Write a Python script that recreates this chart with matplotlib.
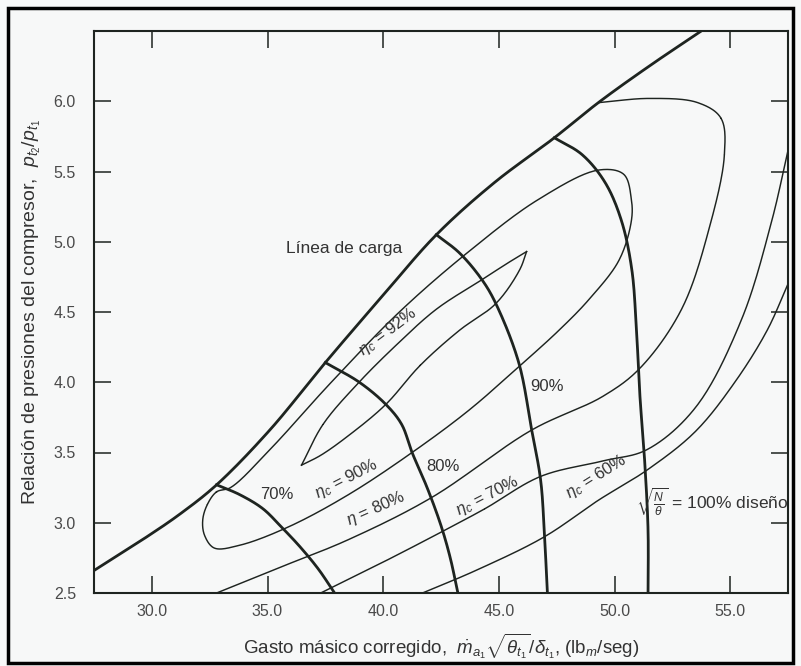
import numpy as np
import matplotlib
matplotlib.use("Agg")
import matplotlib.pyplot as plt
from matplotlib.patches import Rectangle

plt.rcParams["font.family"] = ["Liberation Sans", "DejaVu Sans"]
plt.rcParams["mathtext.fontset"] = "custom"
plt.rcParams["mathtext.rm"] = "Liberation Sans"
plt.rcParams["mathtext.it"] = "Liberation Sans:italic"
plt.rcParams["mathtext.bf"] = "Liberation Sans:bold"

# ---------------- data ----------------
xticks = [30.0, 35.0, 40.0, 45.0, 50.0, 55.0]
yticks = [2.5, 3.0, 3.5, 4.0, 4.5, 5.0, 5.5, 6.0]

surge_x = [27.5, 29.6, 31.2, 32.8, 35.1, 37.5, 40.0, 42.3, 44.8, 47.4, 49.3, 51.5, 53.75]
surge_y = [2.66, 2.88, 3.06, 3.27, 3.66, 4.14, 4.62, 5.05, 5.42, 5.74, 5.99, 6.25, 6.50]

speed70_x = [32.8, 33.8, 34.8, 35.6, 36.4, 37.2, 37.9]
speed70_y = [3.27, 3.20, 3.10, 2.97, 2.83, 2.67, 2.50]
speed80_x = [37.5, 38.97, 40.13, 40.8, 41.25, 41.9, 42.5, 42.9, 43.23]
speed80_y = [4.14, 4.00, 3.84, 3.70, 3.50, 3.25, 2.98, 2.75, 2.50]
speed90_x = [42.3, 43.3, 44.27, 44.87, 45.86, 46.42, 46.81, 46.97, 47.1]
speed90_y = [5.05, 4.92, 4.73, 4.56, 4.14, 3.66, 3.30, 2.92, 2.50]
speed100_x = [47.4, 48.6, 49.6, 50.3, 50.75, 50.95, 51.1, 51.3, 51.45, 51.45]
speed100_y = [5.74, 5.62, 5.42, 5.15, 4.80, 4.37, 3.90, 3.45, 2.95, 2.50]

# 92 % island: upper and lower branch from left tip to right tip
eta92_up_x = [36.47, 37.4, 38.9, 40.6, 42.3, 44.27, 45.4, 46.2]
eta92_up_y = [3.41, 3.70, 3.99, 4.27, 4.52, 4.73, 4.85, 4.93]
eta92_lo_x = [36.47, 37.3, 38.5, 40.1, 41.6, 43.3, 44.87, 45.9, 46.2]
eta92_lo_y = [3.41, 3.48, 3.62, 3.84, 4.12, 4.37, 4.56, 4.80, 4.93]

eta90_x = [32.8, 33.4, 35.1, 37.7, 40.7, 43.7, 46.7, 49.3, 50.4, 50.73, 50.73, 50.2, 48.9, 47.6,
           45.86, 43.7, 41.25, 38.5, 35.9, 33.8, 32.7, 32.28, 32.2, 32.4]
eta90_y = [3.22, 3.25, 3.52, 3.99, 4.50, 4.93, 5.30, 5.51, 5.48, 5.30, 5.15, 4.87, 4.59, 4.37,
           4.11, 3.80, 3.50, 3.20, 2.97, 2.84, 2.82, 2.91, 3.02, 3.13]

eta80_x = [32.8, 35.5, 38.5, 42.1, 46.42, 49.5, 51.1, 52.9, 54.1, 54.75, 54.6, 53.6, 51.5, 49.31]
eta80_y = [2.50, 2.68, 2.88, 3.18, 3.66, 3.90, 4.10, 4.52, 5.10, 5.62, 5.88, 5.99, 6.02, 5.99]

eta70_x = [37.3, 40.0, 42.7, 44.4, 46.81, 49.5, 51.4, 53.5, 55.5, 56.8, 57.5]
eta70_y = [2.50, 2.72, 2.95, 3.10, 3.33, 3.44, 3.52, 3.82, 4.45, 5.15, 5.65]

eta60_x = [41.7, 44.0, 46.97, 49.3, 51.45, 53.5, 55.2, 56.6, 57.5]
eta60_y = [2.50, 2.66, 2.90, 3.16, 3.38, 3.65, 4.00, 4.37, 4.70]

# ---------------- helpers ----------------
SX, SY = 23.2, 140.5  # approx. pixels per data unit, for even smoothing


def smooth(xs, ys, closed=False, n=24):
    """Centripetal Catmull-Rom curve through the given points (drawing only)."""
    P = np.column_stack([np.asarray(xs) * SX, np.asarray(ys) * SY])
    if closed:
        P = np.vstack([P[-1], P, P[0], P[1]])
    else:
        P = np.vstack([2 * P[0] - P[1], P, 2 * P[-1] - P[-2]])
    out = []
    for i in range(1, len(P) - 2):
        p0, p1, p2, p3 = P[i - 1], P[i], P[i + 1], P[i + 2]
        t0 = 0.0
        t1 = t0 + max(np.linalg.norm(p1 - p0), 1e-6) ** 0.5
        t2 = t1 + max(np.linalg.norm(p2 - p1), 1e-6) ** 0.5
        t3 = t2 + max(np.linalg.norm(p3 - p2), 1e-6) ** 0.5
        t = np.linspace(t1, t2, n)[:, None]
        a1 = (t1 - t) / (t1 - t0) * p0 + (t - t0) / (t1 - t0) * p1
        a2 = (t2 - t) / (t2 - t1) * p1 + (t - t1) / (t2 - t1) * p2
        a3 = (t3 - t) / (t3 - t2) * p2 + (t - t2) / (t3 - t2) * p3
        b1 = (t2 - t) / (t2 - t0) * a1 + (t - t0) / (t2 - t0) * a2
        b2 = (t3 - t) / (t3 - t1) * a2 + (t - t1) / (t3 - t1) * a3
        c = (t2 - t) / (t2 - t1) * b1 + (t - t1) / (t2 - t1) * b2
        out.append(c)
    C = np.vstack(out)
    return C[:, 0] / SX, C[:, 1] / SY


# ---------------- figure ----------------
W, H, DPI = 801, 666, 100
bg = "#f7f8f8"
fig = plt.figure(figsize=(W / DPI, H / DPI), dpi=DPI, facecolor=bg)
ax = fig.add_axes([94 / W, (H - 593) / H, (788 - 94) / W, (593 - 31) / H])
ax.set_facecolor(bg)

ink = "#1e2420"
thick = 2.0
thin = 1.05

ax.plot(*smooth(surge_x, surge_y), color=ink, lw=thick, solid_capstyle="round")
for xs, ys in [(speed70_x, speed70_y), (speed80_x, speed80_y),
               (speed90_x, speed90_y), (speed100_x, speed100_y)]:
    ax.plot(*smooth(xs, ys), color=ink, lw=thick)
for xs, ys in [(eta92_up_x, eta92_up_y), (eta92_lo_x, eta92_lo_y),
               (eta80_x, eta80_y), (eta70_x, eta70_y), (eta60_x, eta60_y)]:
    ax.plot(*smooth(xs, ys), color=ink, lw=thin)
ax.plot(*smooth(eta90_x, eta90_y, closed=True), color=ink, lw=thin)

ax.set_xlim(27.5, 57.5)
ax.set_ylim(2.5, 6.5)
ax.set_xticks(xticks)
ax.set_yticks(yticks)
ax.set_xticklabels([f"{v:.1f}" for v in xticks])
ax.set_yticklabels([f"{v:.1f}" for v in yticks])
ax.tick_params(direction="in", length=12, width=1.1, top=True, right=True,
               labelsize=11.5, labelcolor="#4a4a4a", color=ink)
ax.tick_params(axis="x", pad=8)
ax.tick_params(axis="y", pad=13)
for s in ax.spines.values():
    s.set_linewidth(1.5)
    s.set_color(ink)

tc = "#333"
fs = 12
ax.text(38.3, 4.95, "Línea de carga", fontsize=12.5, color=tc, ha="center", va="center")
ax.text(40.2, 4.36, r"$\eta_c$ = 92%", fontsize=fs, color=tc, ha="center", va="center", rotation=37)
ax.text(47.1, 3.97, "90%", fontsize=fs, color=tc, ha="center", va="center")
ax.text(42.6, 3.40, "80%", fontsize=fs, color=tc, ha="center", va="center")
ax.text(35.4, 3.20, "70%", fontsize=fs, color=tc, ha="center", va="center")
ax.text(38.4, 3.31, r"$\eta_c$ = 90%", fontsize=fs, color=tc, ha="center", va="center", rotation=27)
ax.text(39.7, 3.10, r"$\eta$ = 80%", fontsize=fs, color=tc, ha="center", va="center", rotation=24)
ax.text(44.5, 3.19, r"$\eta_c$ = 70%", fontsize=fs, color=tc, ha="center", va="center", rotation=27)
ax.text(49.2, 3.33, r"$\eta_c$ = 60%", fontsize=fs, color=tc, ha="center", va="center", rotation=32)
ax.text(50.95, 3.15, r"$\sqrt{\frac{N}{\theta}}$ = 100% diseño", fontsize=12.5, color=tc,
        ha="left", va="center")

ax.set_xlabel(r"Gasto másico corregido,  $\dot{m}_{a_1}\sqrt{\theta_{t_1}}/\delta_{t_1}$, (lb$_m$/seg)",
              fontsize=13.5, color=tc, labelpad=9)
ax.set_ylabel(r"Relación de presiones del compresor,  $p_{t_2}/p_{t_1}$",
              fontsize=14, color=tc)
ax.yaxis.set_label_coords(-0.073, 0.5)

fig.patches.append(Rectangle((8 / W, 3 / H), (793 - 8) / W, (666 - 8 - 3) / H,
                             transform=fig.transFigure, fill=False, lw=2.5, ec="black"))

fig.savefig("out.png", dpi=DPI, facecolor=fig.get_facecolor())
